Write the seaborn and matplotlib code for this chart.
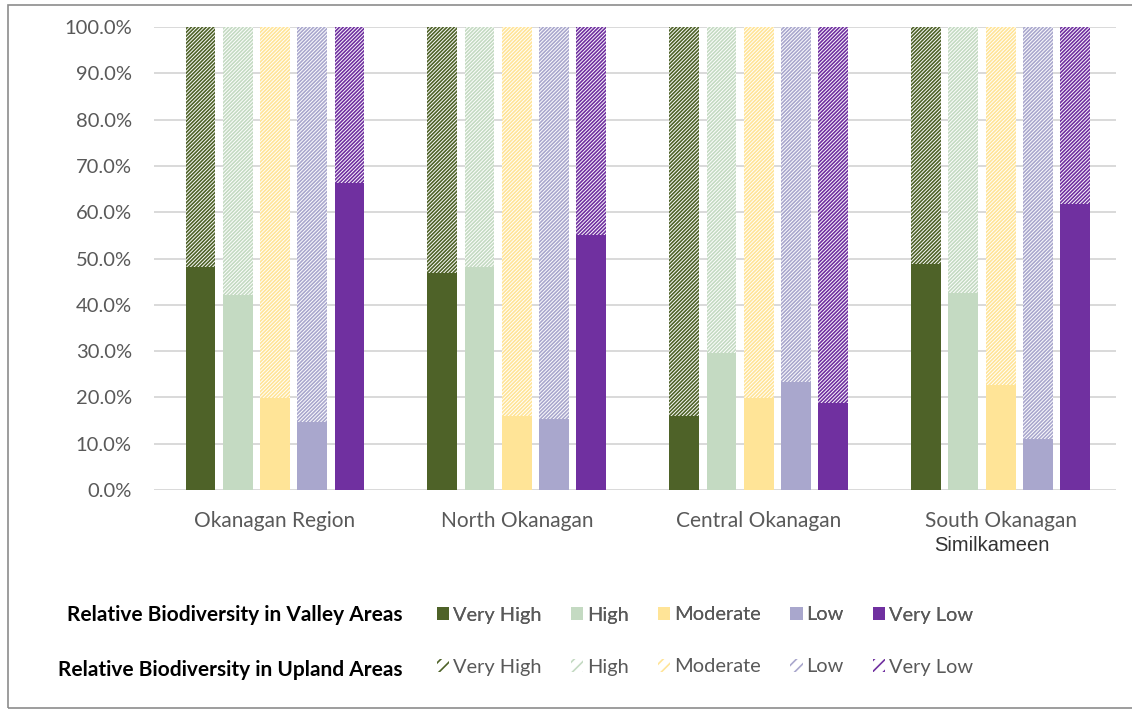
import matplotlib
matplotlib.use("Agg")
import numpy as np
import pandas as pd
import matplotlib.pyplot as plt
import seaborn as sns
from matplotlib.patches import Patch, Rectangle
from matplotlib.ticker import MultipleLocator, PercentFormatter

# ---- data -----------------------------------------------------------------
regions = ["Okanagan Region", "North Okanagan", "Central Okanagan", "South Okanagan"]
classes = ["Very High", "High", "Moderate", "Low", "Very Low"]

# share of each biodiversity class found in valley areas (%)
valley_very_high = [48.2, 46.9, 16.0, 48.8]
valley_high = [42.1, 48.2, 29.6, 42.5]
valley_moderate = [19.9, 16.0, 19.9, 22.7]
valley_low = [14.7, 15.3, 23.3, 11.0]
valley_very_low = [66.3, 55.1, 18.8, 61.8]

# remainder found in upland areas (%)
upland_very_high = [51.8, 53.1, 84.0, 51.2]
upland_high = [57.9, 51.8, 70.4, 57.5]
upland_moderate = [80.1, 84.0, 80.1, 77.3]
upland_low = [85.3, 84.7, 76.7, 89.0]
upland_very_low = [33.7, 44.9, 81.2, 38.2]

colors = ["#4E6228", "#C4DAC2", "#FFE497", "#A9A7CD", "#7030A0"]

valley = [valley_very_high, valley_high, valley_moderate, valley_low, valley_very_low]
upland = [upland_very_high, upland_high, upland_moderate, upland_low, upland_very_low]

rows = []
for cls, v_vals, u_vals in zip(classes, valley, upland):
    for reg, v, u in zip(regions, v_vals, u_vals):
        rows.append({"region": reg, "class": cls, "valley": v, "upland": u,
                     "stack_top": v + u})
df = pd.DataFrame(rows)

# ---- style ----------------------------------------------------------------
sns.set_theme(style="white")
plt.rcParams["font.family"] = ["Lato", "DejaVu Sans"]
plt.rcParams["hatch.linewidth"] = 1.2

W, H = 1132, 709
fig = plt.figure(figsize=(W / 100, H / 100), dpi=100)
fig.patch.set_facecolor("white")

ax = fig.add_axes([154 / W, (H - 490) / H, (1116 - 154) / W, (490 - 27) / H])

palette = dict(zip(classes, colors))
bar_kw = dict(x="region", hue="class", order=regions, hue_order=classes,
              palette=palette, width=0.77, gap=0.2, saturation=1,
              errorbar=None, legend=False, ax=ax)

# upland segment: hatched column stacked on top of the valley share
sns.barplot(data=df, y="stack_top", **bar_kw)
for cont, col in zip(ax.containers, colors):
    for p in cont:
        p.set_facecolor("white")
        p.set_edgecolor(col)
        p.set_linewidth(0)
        p.set_hatch("/////////")
n_up = len(ax.containers)

# valley segment: solid column from the baseline
sns.barplot(data=df, y="valley", **bar_kw)
for cont in ax.containers[n_up:]:
    for p in cont:
        p.set_linewidth(0)

ax.set_xlim(-0.5, 3.477)
ax.set_ylim(0, 100)
ax.yaxis.set_major_locator(MultipleLocator(10))
ax.yaxis.set_major_formatter(PercentFormatter(decimals=1))
ax.grid(axis="y", color="#D9D9D9", linewidth=1.4)
ax.grid(axis="x", visible=False)
ax.set_axisbelow(True)
for s in ax.spines.values():
    s.set_visible(False)
ax.tick_params(axis="y", length=0, pad=16, labelsize=14.5, labelcolor="#595959")
ax.tick_params(axis="x", length=0, pad=15, labelsize=15, labelcolor="#595959")
ax.set_xlabel("")
ax.set_ylabel("")

# second line of the last region name
ax.text(3 - 0.035, -11.9, "Similkameen", ha="center", va="center",
        fontsize=14.5, family=["Liberation Sans", "DejaVu Sans"], color="#333333",
        transform=ax.transData, clip_on=False)

# ---- legend rows ----------------------------------------------------------
fig.text(402 / W, 1 - 615 / H, "Relative Biodiversity in Valley Areas",
         ha="right", va="center", fontsize=15, fontweight="bold", color="black")
fig.text(402 / W, 1 - 670 / H, "Relative Biodiversity in Upland Areas",
         ha="right", va="center", fontsize=15, fontweight="bold", color="black")

leg_kw = dict(ncol=5, loc="center left", frameon=False, fontsize=14.4,
              labelcolor="#595959", handlelength=0.62, handleheight=0.62,
              handletextpad=0.2, columnspacing=1.45, borderpad=0,
              borderaxespad=0)

valley_handles = [Patch(facecolor=c, edgecolor="none") for c in colors]
upland_handles = [Patch(facecolor="white", edgecolor=c, linewidth=0, hatch="///")
                  for c in colors]

leg1 = fig.legend(valley_handles, classes,
                  bbox_to_anchor=(437 / W, 1 - 615 / H), **leg_kw)
fig.add_artist(leg1)
fig.legend(upland_handles, classes,
           bbox_to_anchor=(437 / W, 1 - 667 / H), **leg_kw)

# outer frame
fig.add_artist(Rectangle((8 / W, 1 / H), 1.2, (H - 6) / H, fill=False,
                         edgecolor="#8C8C8C", linewidth=1.2,
                         transform=fig.transFigure, clip_on=False))

fig.savefig("out.png", dpi=100, facecolor="white")
